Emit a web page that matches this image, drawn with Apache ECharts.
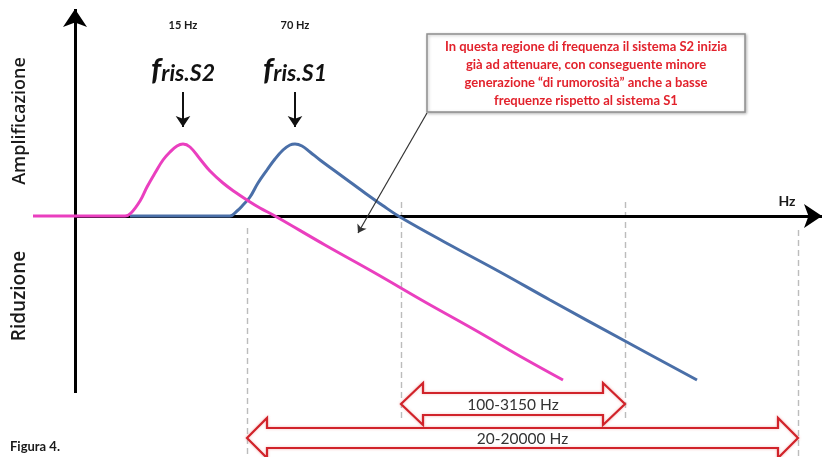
<!DOCTYPE html>
<html>
<head>
<meta charset="utf-8">
<script src="https://cdn.jsdelivr.net/npm/echarts@6/dist/echarts.min.js"></script>
<style>
html,body{margin:0;padding:0;background:#fff;}
#chart{width:825px;height:457px;}
</style>
</head>
<body>
<div id="chart"></div>
<script>
// ---- data (diagram units: x along frequency axis, y = amplification above / reduction below 0)
const curveS2 = [[33,0],[125,0],[131,3],[140,15],[147,29],[155,43],[163,56],[170,64],[177,70],[183,72],[190,69],[200,57],[210,45],[223,33],[235,24],[247,16],[260,8],[275,0],[325,-29],[375,-57],[425,-86],[475,-114],[525,-143],[563,-164]];
const curveS1 = [[130,0],[230,0],[237,5],[243,11],[250,19],[258,33],[267,46],[275,57],[283,66],[290,71],[295,72],[302,70],[310,64],[320,56],[335,45],[350,34],[365,23],[382,11],[400,-1],[450,-29],[500,-56],[550,-84],[625,-125],[697,-164]];
const peakFreqLabels = ['15 Hz', '70 Hz'];
const peakNames = ['S2', 'S1'];
const bandEdges = [247, 401, 625, 798];
const bandLabels = ['100-3150 Hz', '20-20000 Hz'];
const noteLines = [
  'In questa regione di frequenza il sistema S2 inizia',
  'già ad attenuare, con conseguente minore',
  'generazione “di rumorosità” anche a basse',
  'frequenze rispetto al sistema S1'
];
const axisTitles = ['Amplificazione', 'Riduzione', 'Hz'];
const figureCaption = 'Figura 4.';

const FONT = 'Lato, "Open Sans", sans-serif';
const peakOf = c => c.reduce((a, b) => (b[1] > a[1] ? b : a));
const pS2 = peakOf(curveS2), pS1 = peakOf(curveS1);
const peaks = [pS2, pS1];

const chart = echarts.init(document.getElementById('chart'));

function doubleArrow(params, api) {
  const x1 = api.value(0), x2 = api.value(1), yc = api.value(2);
  const a = api.coord([x1, yc]), b = api.coord([x2, yc]);
  const h = api.value(3) / 2, H = api.value(4) / 2, L = api.value(5);
  const y = a[1];
  const pts = [
    [a[0], y], [a[0] + L, y - H], [a[0] + L, y - h], [b[0] - L, y - h], [b[0] - L, y - H],
    [b[0], y], [b[0] - L, y + H], [b[0] - L, y + h], [a[0] + L, y + h], [a[0] + L, y + H]
  ];
  return {
    type: 'group',
    children: [
      { type: 'polygon', shape: { points: pts },
        style: { fill: '#fff', stroke: '#d1232a', lineWidth: 2.2, shadowColor: 'rgba(230,120,120,0.45)', shadowBlur: 3 } },
      { type: 'text', style: { text: bandLabels[params.dataIndex], x: (a[0] + b[0]) / 2, y: y + 1,
        align: 'center', verticalAlign: 'middle', font: '15.5px ' + FONT, fill: '#333' } }
    ]
  };
}

function noteBox(params, api) {
  const p1 = api.coord([api.value(0), api.value(1)]);
  const p2 = api.coord([api.value(2), api.value(3)]);
  const cx = (p1[0] + p2[0]) / 2;
  const children = [{
    type: 'rect', shape: { x: p1[0], y: p1[1], width: p2[0] - p1[0], height: p2[1] - p1[1] },
    style: { fill: '#fff', stroke: '#8f8f8f', lineWidth: 1.5, shadowColor: 'rgba(0,0,0,0.25)', shadowBlur: 3, shadowOffsetX: 1, shadowOffsetY: 1 }
  }];
  noteLines.forEach((t, i) => {
    children.push({ type: 'text', style: { text: t, x: cx, y: p1[1] + 13 + i * 18,
      align: 'center', verticalAlign: 'middle', font: 'bold 13px ' + FONT, fill: '#e2222c' } });
  });
  return { type: 'group', children };
}

const textItems = [
  { x: pS2[0], y: 191, text: peakFreqLabels[0], font: 'bold 11px ' + FONT, rot: 0 },
  { x: pS1[0], y: 191, text: peakFreqLabels[1], font: 'bold 11px ' + FONT, rot: 0 },
  { x: 20, y: 95, text: axisTitles[0], font: '600 18px "Open Sans", sans-serif', rot: Math.PI / 2 },
  { x: 20, y: -80, text: axisTitles[1], font: '600 19px "Open Sans", sans-serif', rot: Math.PI / 2 },
  { x: 787, y: 15, text: axisTitles[2], font: 'bold 14px ' + FONT, rot: 0 },
  { x: 10, y: -231, text: figureCaption, font: 'bold 13px ' + FONT, rot: 0, align: 'left' }
];
function textRender(params, api) {
  const it = textItems[params.dataIndex];
  const p = api.coord([api.value(0), api.value(1)]);
  return { type: 'text', x: p[0], y: p[1], rotation: it.rot,
    style: { text: it.text, x: 0, y: 0, align: it.align || 'center', verticalAlign: 'middle', font: it.font, fill: '#1a1a1a' } };
}
function frisRender(params, api) {
  const p = api.coord([api.value(0), api.value(1)]);
  return { type: 'text', x: p[0], y: p[1],
    style: { text: '{f|f}{t|ris.' + peakNames[params.dataIndex] + '}', x: 0, y: 0, align: 'center', verticalAlign: 'middle',
      rich: {
        f: { font: 'italic bold 31px ' + FONT, fill: '#111', verticalAlign: 'bottom' },
        t: { font: 'italic bold 23px ' + FONT, fill: '#111', verticalAlign: 'bottom' }
      } } };
}

chart.setOption({
  animation: false,
  backgroundColor: '#fff',
  grid: { left: 0, right: 0, top: 0, bottom: 0 },
  xAxis: { type: 'value', min: 0, max: 825, show: false },
  yAxis: { type: 'value', min: -241, max: 216, show: false },
  series: [
    { type: 'lines', coordinateSystem: 'cartesian2d', z: 1,
      lineStyle: { color: '#7a7a7a', width: 1.4, type: [6, 4] },
      data: [
        { coords: [[bandEdges[0], -12], [bandEdges[0], -241]] },
        { coords: [[bandEdges[1], 14], [bandEdges[1], -204]] },
        { coords: [[bandEdges[2], 14], [bandEdges[2], -204]] },
        { coords: [[bandEdges[3], -14], [bandEdges[3], -241]] }
      ] },
    { type: 'lines', coordinateSystem: 'cartesian2d', z: 2,
      symbol: ['none', 'arrow'], symbolSize: [0, 18],
      lineStyle: { color: '#000', width: 3, opacity: 1 },
      data: [
        { coords: [[75, -177], [75, 207]] },
        { coords: [[75, 0], [822, 0]] }
      ] },
    { type: 'line', data: curveS1, smooth: 0.4, showSymbol: false, z: 3,
      lineStyle: { color: '#4a6fa8', width: 3 } },
    { type: 'line', data: curveS2, smooth: 0.4, showSymbol: false, z: 4,
      lineStyle: { color: '#ea3fbf', width: 3 } },
    { type: 'lines', coordinateSystem: 'cartesian2d', z: 5,
      symbol: ['none', 'arrow'], symbolSize: [0, 11],
      lineStyle: { color: '#111', width: 2, opacity: 1 },
      data: peaks.map(p => ({ coords: [[p[0], 124], [p[0], 89]] })) },
    { type: 'lines', coordinateSystem: 'cartesian2d', z: 5,
      symbol: ['none', 'arrow'], symbolSize: [0, 8],
      lineStyle: { color: '#333', width: 1.2, opacity: 1 },
      data: [{ coords: [[427, 103], [358, -17]] }] },
    { type: 'custom', renderItem: doubleArrow, z: 6,
      data: [[bandEdges[1], bandEdges[2], -188, 22, 42, 22], [bandEdges[0], bandEdges[3], -222, 20, 40, 20]] },
    { type: 'custom', renderItem: noteBox, z: 6, data: [[427, 182, 745, 104]] },
    { type: 'custom', renderItem: textRender, z: 7, silent: true, data: textItems.map(t => [t.x, t.y]) },
    { type: 'custom', renderItem: frisRender, z: 7, silent: true, data: peaks.map(p => [p[0], 146]) }
  ]
});
</script>
</body>
</html>
